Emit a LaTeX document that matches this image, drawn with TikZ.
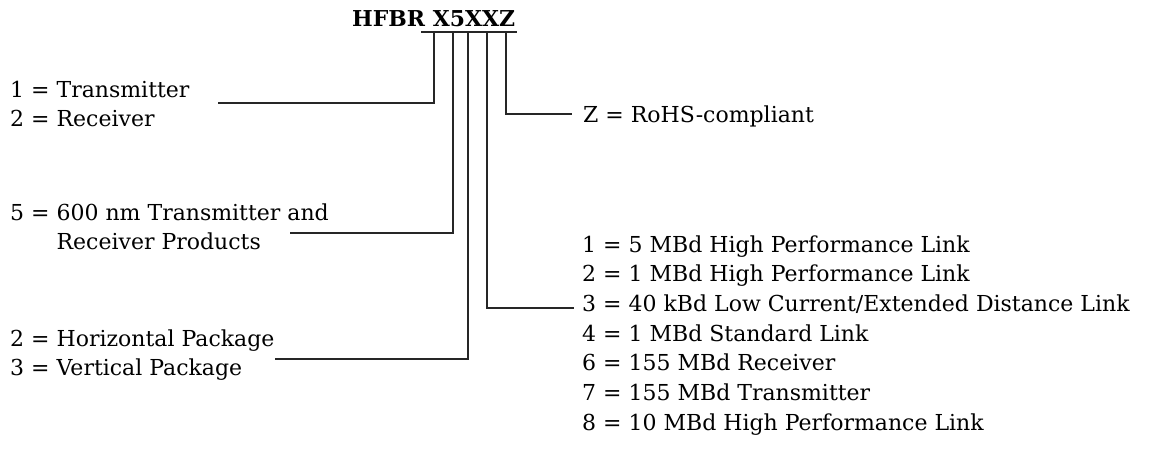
\documentclass[tikz,border=0pt]{standalone}
\usepackage{fontspec}
\setmainfont{DejaVu Serif}
\begin{document}
\begin{tikzpicture}[x=1pt,y=-1pt,
  lbl/.style={inner sep=0pt, anchor=base west, font=\fontsize{22}{29.7}\selectfont},
  conn/.style={line width=1.2pt, draw=black!85}]
\useasboundingbox (0,0) rectangle (1169,450);
% title
\node[inner sep=0pt, anchor=base west, font=\bfseries\fontsize{21.9}{25}\selectfont] (title) at (352,26) {HFBR X5XXZ};
% left labels
\node[lbl] (t1) at (10,97) {1 = Transmitter};
\node[lbl] (t2) at (10,126) {2 = Receiver};
\node[lbl] (t5a) at (10,220) {5 = 600 nm Transmitter and};
\node[lbl] (t5b) at (10,249) {\phantom{5 = }Receiver Products};
\node[lbl] (th) at (10,346) {2 = Horizontal Package};
\node[lbl] (tv) at (10,375) {3 = Vertical Package};
% right labels
\node[lbl] (tz) at (583,122) {Z = RoHS-compliant};
\node[lbl] (r1) at (582,252) {1 = 5 MBd High Performance Link};
\node[lbl] (r2) at (582,281.7) {2 = 1 MBd High Performance Link};
\node[lbl] (r3) at (582,311.4) {3 = 40 kBd Low Current/Extended Distance Link};
\node[lbl] (r4) at (582,341.1) {4 = 1 MBd Standard Link};
\node[lbl] (r5) at (582,370.8) {6 = 155 MBd Receiver};
\node[lbl] (r6) at (582,400.5) {7 = 155 MBd Transmitter};
\node[lbl] (r7) at (582,430.2) {8 = 10 MBd High Performance Link};
% connector coordinates
\coordinate (ul) at (421,32);
\coordinate (ur) at (517,32);
\coordinate (c1) at (434,32);
\coordinate (c2) at (453,32);
\coordinate (c3) at (468,32);
\coordinate (c4) at (487,32);
\coordinate (cz) at (506,32);
\coordinate (e1) at (218,103);
\coordinate (e2) at (290,233);
\coordinate (e3) at (275,359);
\coordinate (e4) at (574,308);
\coordinate (ez) at (572,114);
\draw[conn] (ul) -- (ur);
\draw[conn] (c1) |- (e1);
\draw[conn] (c2) |- (e2);
\draw[conn] (c3) |- (e3);
\draw[conn] (c4) |- (e4);
\draw[conn] (cz) |- (ez);
\end{tikzpicture}
\end{document}
